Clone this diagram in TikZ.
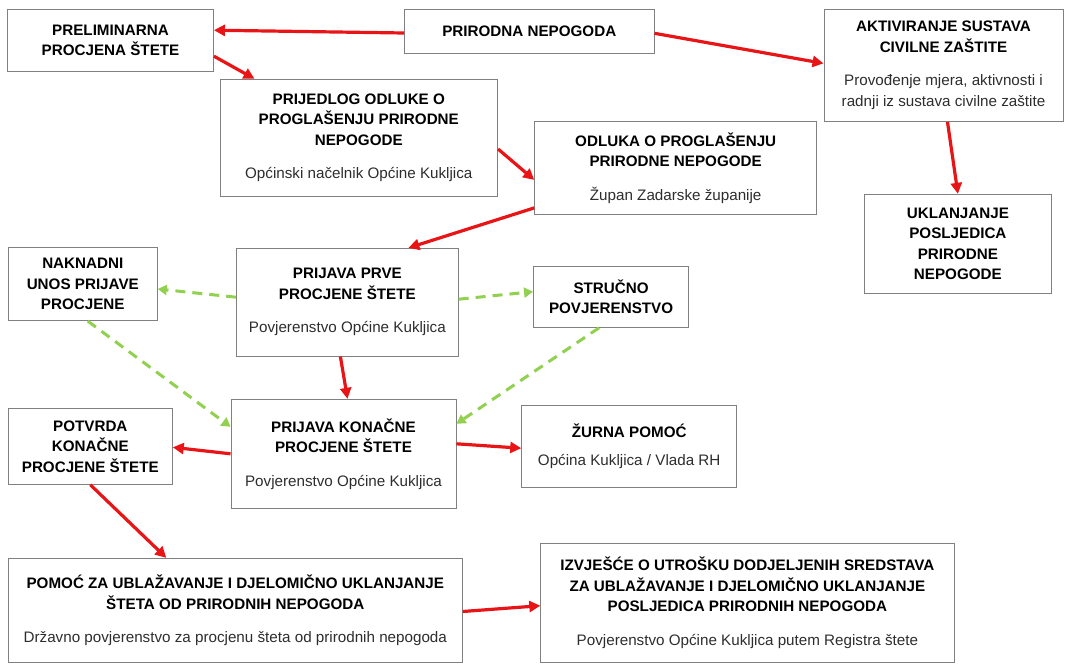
\documentclass[tikz,border=0pt]{standalone}
\usepackage{fontspec}
\setmainfont{Liberation Sans}
\usepackage{tikz}
\usetikzlibrary{arrows.meta}
\definecolor{boxgray}{RGB}{128,128,128}
\definecolor{notegray}{RGB}{45,45,45}
\definecolor{flowred}{RGB}{232,20,22}
\definecolor{optgreen}{RGB}{146,208,80}
\newcommand{\boxnote}[1]{{\mdseries\color{notegray}#1}}

\begin{document}
\begin{tikzpicture}[x=1pt, y=-1pt,
    box/.style={draw=boxgray, line width=0.9pt, rectangle, align=center, inner sep=0pt,
        font=\fontsize{15.2}{20.5}\selectfont\bfseries},
    flow/.style={draw=flowred, line width=3.2pt, -{Triangle[length=11pt, width=11pt]}},
    opt/.style={draw=optgreen, line width=3pt, dash pattern=on 10pt off 7pt, -{Triangle[length=9pt, width=10pt]}}]
        \useasboundingbox (0,0) rectangle (1066,664);

        % Nodes
        \node[box, minimum width=206pt, minimum height=61.7pt] (prelim) at (110.5, 40.2) {PRELIMINARNA\\PROCJENA ŠTETE};
        \node[box, minimum width=249.4pt, minimum height=44pt] (prirodna) at (529.3, 31.3) {PRIRODNA NEPOGODA};
        \node[box, minimum width=239pt, minimum height=112.2pt] (aktiv) at (943.5, 65.4) {AKTIVIRANJE SUSTAVA\\CIVILNE ZAŠTITE\\[13pt]\boxnote{Provođenje mjera, aktivnosti i}\\\boxnote{radnji iz sustava civilne zaštite}};
        \node[box, minimum width=277.6pt, minimum height=117.4pt] (prijedlog) at (358.8, 138) {PRIJEDLOG ODLUKE O\\PROGLAŠENJU PRIRODNE\\NEPOGODE\\[13pt]\boxnote{Općinski načelnik Općine Kukljica}};
        \node[box, minimum width=282pt, minimum height=92.3pt] (odluka) at (675.7, 167.9) {ODLUKA O PROGLAŠENJU\\PRIRODNE NEPOGODE\\[13pt]\boxnote{Župan Zadarske županije}};
        \node[box, minimum width=187.7pt, minimum height=99pt] (uklanjanje) at (957.9, 243.8) {UKLANJANJE\\POSLJEDICA\\PRIRODNE\\NEPOGODE};
        \node[box, minimum width=149pt, minimum height=73.4pt] (naknadni) at (82.8, 284) {NAKNADNI\\UNOS PRIJAVE\\PROCJENE};
        \node[box, minimum width=221.7pt, minimum height=107.7pt] (prva) at (347.4, 302.2) {PRIJAVA PRVE\\PROCJENE ŠTETE\\[13pt]\boxnote{Povjerenstvo Općine Kukljica}};
        \node[box, minimum width=155.2pt, minimum height=61.3pt] (strucno) at (611.1, 296.7) {STRUČNO\\POVJERENSTVO};
        \node[box, minimum width=164pt, minimum height=76pt] (potvrda) at (90.3, 446.3) {POTVRDA\\KONAČNE\\PROCJENE ŠTETE};
        \node[box, minimum width=225pt, minimum height=109pt] (konacne) at (343.5, 453.8) {PRIJAVA KONAČNE\\PROCJENE ŠTETE\\[13pt]\boxnote{Povjerenstvo Općine Kukljica}};
        \node[box, minimum width=215pt, minimum height=82.3pt] (zurna) at (629.2, 446.2) {ŽURNA POMOĆ\\[8pt]\boxnote{Općina Kukljica / Vlada RH}};
        \node[box, minimum width=454pt, minimum height=104.4pt] (pomoc) at (235.3, 610.5) {POMOĆ ZA UBLAŽAVANJE I DJELOMIČNO UKLANJANJE\\ŠTETA OD PRIRODNIH NEPOGODA\\[13pt]\boxnote{Državno povjerenstvo za procjenu šteta od prirodnih nepogoda}};
        \node[box, minimum width=413.3pt, minimum height=118.7pt] (izvjesce) at (747.4, 602.7) {IZVJEŠĆE O UTROŠKU DODJELJENIH SREDSTAVA\\ZA UBLAŽAVANJE I DJELOMIČNO UKLANJANJE\\POSLJEDICA PRIRODNIH NEPOGODA\\[13pt]\boxnote{Povjerenstvo Općine Kukljica putem Registra štete}};

        % Arrows
        \draw[flow] ([yshift=-1.7pt]prirodna.west) -- ([yshift=10pt]prelim.east);
        \draw[flow] ([yshift=-2pt]prirodna.east) -- ([yshift=2pt]aktiv.west);
        \draw[flow] ([yshift=-16pt]prelim.east) -- ([xshift=35pt]prijedlog.north west);
        \draw[flow] ([yshift=-11pt]prijedlog.east) -- ([yshift=-12pt]odluka.west);
        \draw[flow] ([yshift=-40pt]odluka.west) -- ([xshift=61pt]prva.north);
        \draw[flow] ([xshift=4pt]aktiv.south) -- (uklanjanje.north);
        \draw[flow] ([xshift=-7pt]prva.south) -- ([xshift=4pt]konacne.north);
        \draw[flow] (konacne.west) -- ([yshift=-1pt]potvrda.east);
        \draw[flow] ([yshift=10pt]konacne.east) -- ([yshift=-2pt]zurna.west);
        \draw[flow] (potvrda.south) -- ([xshift=-69pt]pomoc.north);
        \draw[flow] ([yshift=-1pt]pomoc.east) -- ([yshift=-3pt]izvjesce.west);

        % Dashed arrows
        \draw[opt] ([yshift=5pt]prva.west) -- ([yshift=-5pt]naknadni.east);
        \draw[opt] ([yshift=3pt]prva.east) -- ([yshift=5pt]strucno.west);
        \draw[opt] ([xshift=5pt]naknadni.south) -- ([yshift=27pt]konacne.west);
        \draw[opt] ([xshift=-12pt]strucno.south) -- ([yshift=30pt]konacne.east);
    \end{tikzpicture}
\end{document}
